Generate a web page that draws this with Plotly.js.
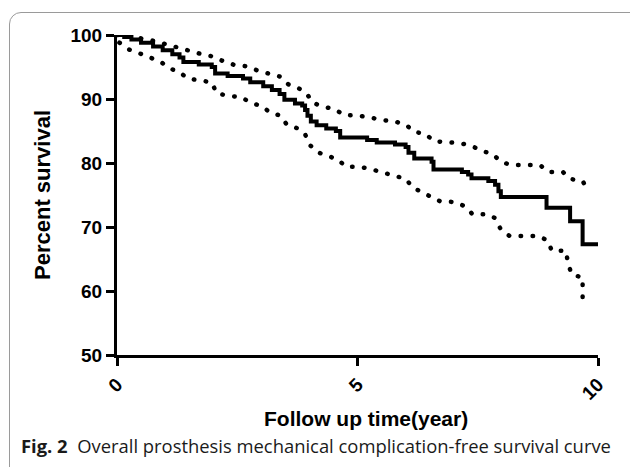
<!DOCTYPE html>
<html>
<head>
<meta charset="utf-8">
<script src="https://cdn.plot.ly/plotly-3.0.1.min.js"></script>
<style>
  html, body { margin: 0; padding: 0; background: #ffffff; overflow: hidden; }
  #frame { position: absolute; left: 9px; top: 12px; width: 660px; height: 500px;
           border: 1px solid #9a9a9a; border-radius: 12px; box-sizing: border-box; }
  #chart { position: absolute; left: 0; top: 0; width: 630px; height: 467px; }
</style>
</head>
<body>
<div id="frame"></div>
<div id="chart"></div>
<script>
// Kaplan-Meier estimate (step times in years, survival % after each step)
const survTime = [0, 0.15, 0.3, 0.5, 0.75, 0.95, 1.15, 1.3, 1.38, 1.7, 1.97, 2.04, 2.3, 2.62, 2.77, 3.04, 3.22, 3.38, 3.48, 3.7, 3.85, 3.91, 3.96, 4.03, 4.15, 4.35, 4.55, 4.64, 5.2, 5.4, 5.78, 6.0, 6.06, 6.18, 6.54, 6.58, 7.17, 7.3, 7.37, 7.72, 7.86, 7.93, 7.98, 8.93, 9.42, 9.68, 10];
const survPct  = [100, 99.7, 99.3, 98.8, 98.2, 97.6, 97.0, 96.5, 95.8, 95.4, 95.0, 94.0, 93.6, 93.2, 92.6, 92.0, 91.4, 90.8, 89.9, 89.3, 89.0, 88.3, 87.4, 86.5, 85.9, 85.4, 85.0, 84.0, 83.6, 83.2, 82.9, 82.5, 81.6, 80.7, 80.2, 79.0, 78.6, 78.2, 77.6, 77.2, 76.6, 75.6, 74.7, 73.0, 70.9, 67.3, 67.3];

// Upper 95% confidence band
const upperTime = [0, 0.34, 0.57, 0.81, 1.05, 1.29, 1.52, 1.76, 2.02, 2.21, 2.45, 2.71, 2.94, 3.17, 3.39, 3.56, 3.77, 3.94, 4.07, 4.29, 4.53, 4.72, 5.02, 5.27, 5.52, 5.78, 6.02, 6.17, 6.42, 6.59, 6.87, 7.13, 7.37, 7.58, 7.81, 7.98, 8.19, 8.79, 8.97, 9.27, 9.42, 9.68, 9.78];
const upperPct  = [100, 99.7, 99.4, 99.0, 98.5, 97.9, 97.4, 97.0, 96.6, 95.9, 95.3, 95.1, 94.4, 93.9, 93.5, 92.3, 91.7, 90.9, 89.4, 88.8, 88.4, 87.5, 87.4, 87.1, 86.7, 86.5, 85.9, 84.9, 84.5, 83.4, 83.2, 83.1, 82.7, 81.9, 81.4, 80.2, 79.7, 79.7, 78.6, 78.6, 77.5, 77.2, 75.9];

// Lower 95% confidence band
const lowerTime = [0.05, 0.26, 0.48, 0.71, 0.91, 1.09, 1.3, 1.47, 1.73, 1.97, 2.07, 2.31, 2.58, 2.78, 3.01, 3.18, 3.4, 3.53, 3.76, 3.91, 4.01, 4.16, 4.39, 4.6, 4.76, 5.05, 5.3, 5.54, 5.78, 6.01, 6.14, 6.33, 6.54, 6.72, 7.03, 7.24, 7.39, 7.69, 7.86, 7.98, 8.16, 8.76, 8.95, 9.04, 9.33, 9.38, 9.45, 9.68, 9.68];
const lowerPct  = [98.8, 97.7, 97.1, 96.5, 95.8, 94.8, 94.2, 93.2, 92.8, 92.6, 90.9, 90.5, 90.3, 89.4, 88.9, 87.9, 87.4, 86.0, 85.4, 84.5, 82.8, 81.7, 81.1, 80.5, 79.4, 79.4, 79.0, 78.5, 78.1, 77.5, 76.2, 75.5, 74.8, 74.0, 73.9, 73.2, 72.0, 72.0, 71.4, 69.6, 68.6, 68.6, 67.9, 66.3, 66.3, 64.3, 62.6, 62.1, 57.5];

const xTickVals = [0, 5, 10];
const xTickText = ['0', '5', '10'];
const yTickVals = [50, 60, 70, 80, 90, 100];

const xTitle = 'Follow up time(year)';
const yTitle = 'Percent survival';
const caption = '<b>Fig. 2</b>  Overall prosthesis mechanical complication-free survival curve';

const axisFont = 'Liberation Sans, Arial, sans-serif';

const traces = [
  { x: survTime, y: survPct, type: 'scatter', mode: 'lines',
    line: { shape: 'hv', color: '#000000', width: 4 }, hoverinfo: 'skip' },
  { x: upperTime, y: upperPct, type: 'scatter', mode: 'lines',
    line: { color: '#000000', width: 4.5, dash: '0.5px,11.5px' }, hoverinfo: 'skip' },
  { x: lowerTime, y: lowerPct, type: 'scatter', mode: 'lines',
    line: { color: '#000000', width: 4.5, dash: '0.5px,11.5px' }, hoverinfo: 'skip' }
];

const layout = {
  width: 630, height: 467,
  margin: { l: 117, r: 32, t: 35, b: 112 },
  paper_bgcolor: 'rgba(0,0,0,0)',
  plot_bgcolor: 'rgba(0,0,0,0)',
  showlegend: false,
  xaxis: {
    range: [0, 10], tickvals: xTickVals, ticktext: xTickText, tickangle: -45,
    showgrid: false, zeroline: false, showline: true, linecolor: '#000', linewidth: 3,
    ticks: 'outside', ticklen: 8, tickwidth: 3, tickcolor: '#000',
    tickfont: { family: axisFont, size: 19, color: '#000', weight: 'bold' }
  },
  yaxis: {
    range: [50, 100], tickvals: yTickVals,
    showgrid: false, zeroline: false, showline: true, linecolor: '#000', linewidth: 3,
    ticks: 'outside', ticklen: 8, tickwidth: 3, tickcolor: '#000',
    tickfont: { family: axisFont, size: 19, color: '#000', weight: 'bold' },
    title: { text: '<b>' + yTitle + '</b>', font: { family: axisFont, size: 22, color: '#000' }, standoff: 14 }
  },
  annotations: [
    { text: '<b>' + xTitle + '</b>', xref: 'paper', yref: 'paper', x: 0.5, y: 0,
      xanchor: 'center', yanchor: 'middle', xshift: 8, yshift: -63, showarrow: false,
      font: { family: axisFont, size: 21, color: '#000' } },
    { text: caption, xref: 'paper', yref: 'paper', x: -0.2, y: 0, xanchor: 'left', yanchor: 'middle',
      xshift: -2, yshift: -90, showarrow: false,
      font: { family: 'Open Sans, Noto Sans, sans-serif', size: 18.4, color: '#1a1a1a' } }
  ]
};

Plotly.newPlot('chart', traces, layout, { displayModeBar: false, staticPlot: true }).then(function (gd) {
  // round dots for the confidence-band lines
  gd.querySelectorAll('.scatterlayer .trace').forEach(function (tr, i) {
    if (i > 0) tr.querySelectorAll('path.js-line').forEach(function (p) {
      p.style.strokeLinecap = 'round';
    });
  });
});
</script>
</body>
</html>
